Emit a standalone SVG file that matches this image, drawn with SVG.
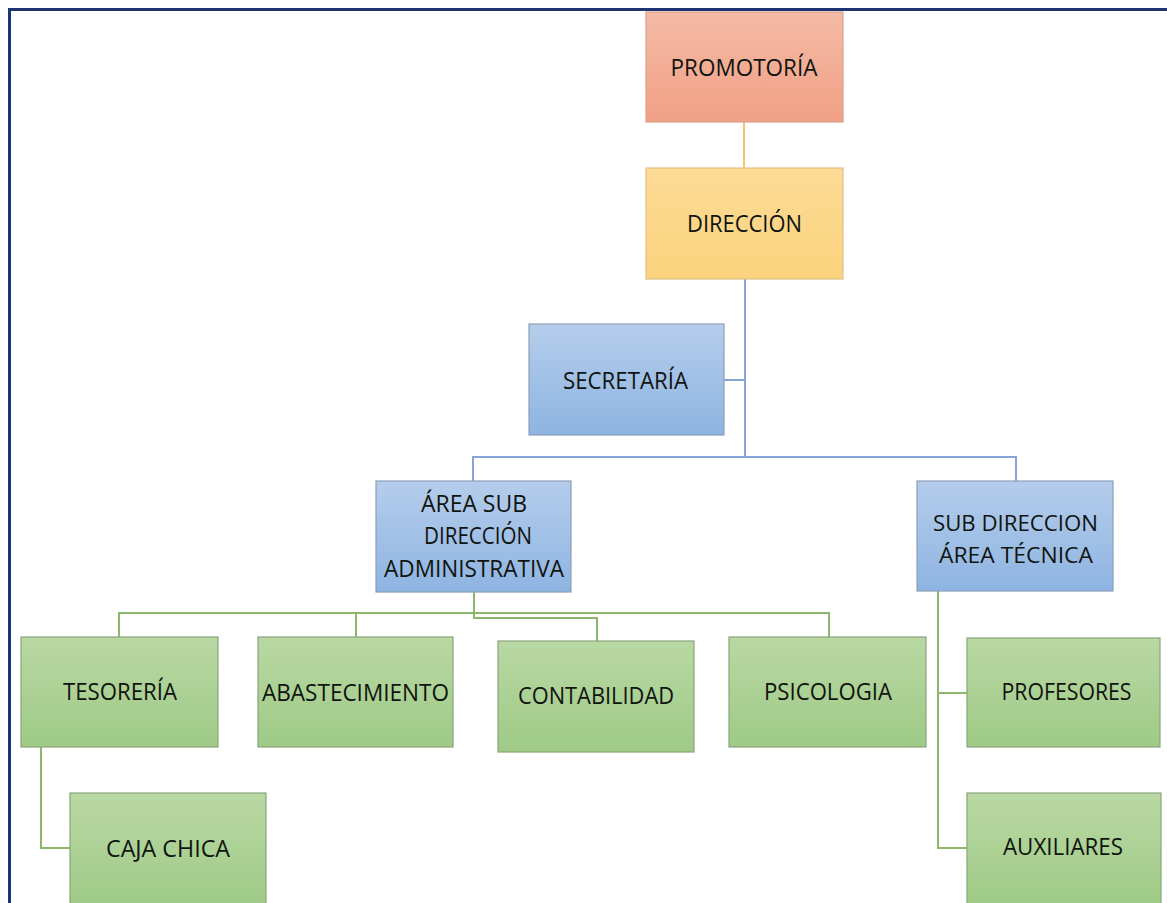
<svg xmlns="http://www.w3.org/2000/svg" width="1167" height="903" viewBox="0 0 1167 903">
<defs>
<linearGradient id="gRed" x1="0" y1="0" x2="0" y2="1"><stop offset="0" stop-color="#f4bba6"/><stop offset="1" stop-color="#f1a084"/></linearGradient>
<linearGradient id="gYel" x1="0" y1="0" x2="0" y2="1"><stop offset="0" stop-color="#fddb95"/><stop offset="1" stop-color="#fbd37e"/></linearGradient>
<linearGradient id="gBlue" x1="0" y1="0" x2="0" y2="1"><stop offset="0" stop-color="#b5cdeb"/><stop offset="1" stop-color="#8eb4e2"/></linearGradient>
<linearGradient id="gGreen" x1="0" y1="0" x2="0" y2="1"><stop offset="0" stop-color="#b9d8a3"/><stop offset="1" stop-color="#9eca86"/></linearGradient>
</defs>
<style>
.t{font-family:"Open Sans","Noto Sans",sans-serif;font-size:24px;font-weight:500;fill:#10140f;text-anchor:middle}
.s{font-size:22px}
.red{fill:url(#gRed);stroke:#d8a28e;stroke-width:1.2}
.yel{fill:url(#gYel);stroke:#e0c089;stroke-width:1.2}
.blue{fill:url(#gBlue);stroke:#8c9fb8;stroke-width:1.2}
.green{fill:url(#gGreen);stroke:#8aa37c;stroke-width:1.2}
.c{fill:none;stroke-width:2}
</style>
<rect width="1167" height="903" fill="#ffffff"/>
<path d="M9.5,903 V9.5 H1167" fill="none" stroke="#1f3472" stroke-width="3"/>
<g id="connectors">
<path class="c" d="M744,122 V168" stroke="#f6c46c"/>
<path class="c" d="M745,279 V457 M724,380 H745 M473,481 V457 H1016 V481" stroke="#86a5d4"/>
<path class="c" d="M119,637 V613 H829 V637 M356,613 V637 M474,592 V618 H597 V641 M41,747 V848 H70 M938,591 V848 H967 M938,693 H967" stroke="#8cb86d"/>
</g>
<g id="promotoria"><rect class="red" x="646" y="12" width="197" height="110"/><text class="t" x="744" y="76" textLength="147" lengthAdjust="spacingAndGlyphs">PROMOTORÍA</text></g>
<g id="direccion"><rect class="yel" x="646" y="168" width="197" height="111"/><text class="t" x="744.5" y="232" textLength="115" lengthAdjust="spacingAndGlyphs">DIRECCIÓN</text></g>
<g id="secretaria"><rect class="blue" x="529" y="324" width="195" height="111"/><text class="t" x="625.5" y="389" textLength="125" lengthAdjust="spacingAndGlyphs">SECRETARÍA</text></g>
<g id="area-admin"><rect class="blue" x="376" y="481" width="195" height="111"/>
<text class="t" x="474" y="512" textLength="106" lengthAdjust="spacingAndGlyphs">ÁREA SUB</text>
<text class="t" x="478" y="544" textLength="108" lengthAdjust="spacingAndGlyphs">DIRECCIÓN</text>
<text class="t" x="474" y="577" textLength="180" lengthAdjust="spacingAndGlyphs">ADMINISTRATIVA</text></g>
<g id="sub-tecnica"><rect class="blue" x="917" y="481" width="196" height="110"/>
<text class="t s" x="1015.5" y="531" textLength="165" lengthAdjust="spacingAndGlyphs">SUB DIRECCION</text>
<text class="t s" x="1016" y="563" textLength="154" lengthAdjust="spacingAndGlyphs">ÁREA TÉCNICA</text></g>
<g id="tesoreria"><rect class="green" x="21" y="637" width="197" height="110"/><text class="t" x="120" y="700" textLength="114" lengthAdjust="spacingAndGlyphs">TESORERÍA</text></g>
<g id="abastecimiento"><rect class="green" x="258" y="637" width="195" height="110"/><text class="t" x="355.5" y="701" textLength="187" lengthAdjust="spacingAndGlyphs">ABASTECIMIENTO</text></g>
<g id="contabilidad"><rect class="green" x="498" y="641" width="196" height="111"/><text class="t" x="596" y="704" textLength="156" lengthAdjust="spacingAndGlyphs">CONTABILIDAD</text></g>
<g id="psicologia"><rect class="green" x="729" y="637" width="197" height="110"/><text class="t" x="828" y="700" textLength="128" lengthAdjust="spacingAndGlyphs">PSICOLOGIA</text></g>
<g id="profesores"><rect class="green" x="967" y="638" width="193" height="109"/><text class="t" x="1066.5" y="700" textLength="130" lengthAdjust="spacingAndGlyphs">PROFESORES</text></g>
<g id="caja-chica"><rect class="green" x="70" y="793" width="196" height="115"/><text class="t" x="168" y="857" textLength="124" lengthAdjust="spacingAndGlyphs">CAJA CHICA</text></g>
<g id="auxiliares"><rect class="green" x="967" y="793" width="194" height="115"/><text class="t" x="1063" y="855" textLength="120" lengthAdjust="spacingAndGlyphs">AUXILIARES</text></g>
</svg>
